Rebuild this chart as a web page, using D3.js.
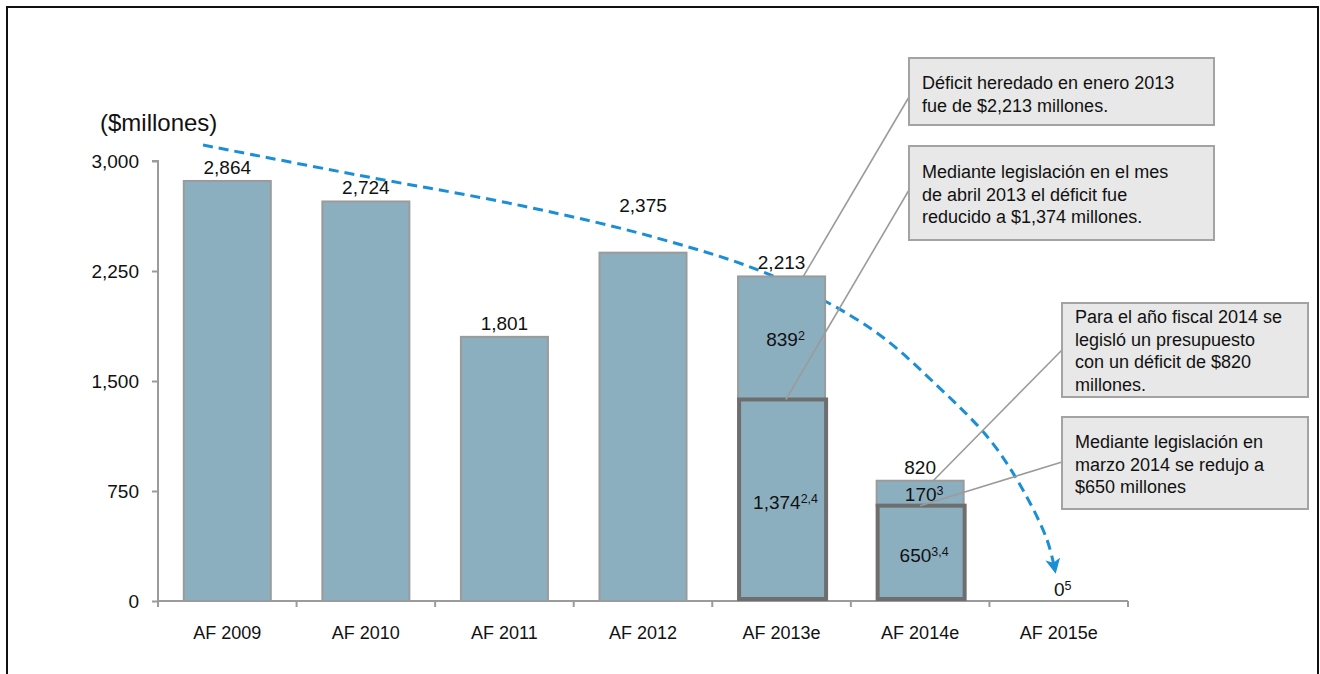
<!DOCTYPE html>
<html>
<head>
<meta charset="utf-8">
<script src="https://cdn.jsdelivr.net/npm/d3@7"></script>
<style>
  html, body { margin: 0; padding: 0; background: #fff; }
  svg { display: block; font-family: "Liberation Sans", Arial, Helvetica, sans-serif; }
</style>
</head>
<body>
<svg id="chart" width="1320" height="674"></svg>
<script>
// ---------- data ----------
const categories = ["AF 2009", "AF 2010", "AF 2011", "AF 2012", "AF 2013e", "AF 2014e", "AF 2015e"];
const totals     = [2864, 2724, 1801, 2375, 2213, 820, 0];
const reducedTo  = [null, null, null, null, 1374, 650, null];   // lower (legislated) segment
const upperNotes = ["", "", "", "", "2", "3", ""];
const lowerNotes = ["", "", "", "", "2,4", "3,4", ""];
const zeroNotes  = ["", "", "", "", "", "", "5"];
const yTicks     = [0, 750, 1500, 2250, 3000];
const yTitle     = "($millones)";

// trend arrow (position in category units, value in $millones)
const trendPos = [-0.175, 0.936, 2.134, 3.101, 3.937, 4.658, 5.143, 5.504, 5.742, 5.916, 5.973];
const trendVal = [3109, 2905, 2693, 2475, 2216, 1848, 1450, 1098, 757, 416, 211];

const notes = [
  ["Déficit heredado en enero 2013", "fue de $2,213 millones."],
  ["Mediante legislación en el mes", "de abril 2013 el déficit fue", "reducido a $1,374 millones."],
  ["Para el año fiscal 2014 se", "legisló un presupuesto", "con un déficit de $820", "millones."],
  ["Mediante legislación en", "marzo 2014 se redujo a", "$650 millones"]
];

// ---------- layout ----------
const svg = d3.select("#chart");
const plot = { left: 158, right: 1128, top: 161, bottom: 601 };
const barFill = "#8cafc0";
const gray = "#9b9b9b";
const blue = "#1b8fd5";

const x = d3.scaleBand().domain(categories).range([plot.left, plot.right])
  .paddingInner(0.372).paddingOuter(0.186);
const y = d3.scaleLinear().domain([0, 3000]).range([plot.bottom, plot.top]);
const xPos = d3.scaleLinear().domain([0, 6])
  .range([x(categories[0]) + x.bandwidth() / 2, x(categories[6]) + x.bandwidth() / 2]);

// frame
svg.append("rect").attr("x", 7).attr("y", 7).attr("width", 1311).attr("height", 680)
  .attr("fill", "none").attr("stroke", "#111").attr("stroke-width", 2);

// y title
svg.append("text").attr("x", 100).attr("y", 131).attr("font-size", 24).attr("fill", "#111").text(yTitle);

// ---------- trend curve (drawn under bars) ----------
const defs = svg.append("defs");
defs.append("marker").attr("id", "arrow").attr("viewBox", "0 0 12 12")
  .attr("refX", 9).attr("refY", 6).attr("markerWidth", 15).attr("markerHeight", 15)
  .attr("markerUnits", "userSpaceOnUse").attr("orient", "auto")
  .append("path").attr("d", "M0,0 L12,6 L0,12 L3,6 Z").attr("fill", blue);

const trend = trendPos.map((p, i) => [xPos(p), y(trendVal[i])]);
svg.append("path").datum(trend)
  .attr("d", d3.line().curve(d3.curveCatmullRom.alpha(0.5)))
  .attr("fill", "none").attr("stroke", blue).attr("stroke-width", 3)
  .attr("stroke-dasharray", "10,6").attr("marker-end", "url(#arrow)");

// ---------- axes ----------
const yAxis = d3.axisLeft(y).tickValues(yTicks).tickSize(6).tickPadding(13)
  .tickFormat(d3.format(","));
const gy = svg.append("g").attr("transform", `translate(${plot.left},0)`).call(yAxis);
gy.select(".domain").attr("stroke", gray).attr("stroke-width", 2)
  .attr("d", `M-6,${plot.top}H0V${plot.bottom + 6}`);
gy.selectAll(".tick line").attr("stroke", gray).attr("stroke-width", 2);
gy.selectAll(".tick text").attr("font-size", 19).attr("fill", "#111")
  .attr("font-family", "Liberation Sans, Arial, sans-serif");

// x axis: line with ticks at category boundaries
const bounds = categories.map(c => x(c) - x.step() * x.paddingInner() / 2).concat([plot.right]);
const gx = svg.append("g");
gx.append("line").attr("x1", plot.left).attr("x2", plot.right).attr("y1", plot.bottom).attr("y2", plot.bottom)
  .attr("stroke", gray).attr("stroke-width", 2);
gx.selectAll("line.tk").data(bounds).join("line").attr("class", "tk")
  .attr("x1", d => d).attr("x2", d => d).attr("y1", plot.bottom).attr("y2", plot.bottom + 6)
  .attr("stroke", gray).attr("stroke-width", 2);
gx.selectAll("text").data(categories).join("text")
  .attr("x", d => x(d) + x.bandwidth() / 2).attr("y", 639)
  .attr("text-anchor", "middle").attr("font-size", 18).attr("fill", "#111").text(d => d);

// ---------- bars ----------
const idx = d3.range(categories.length);
svg.selectAll("rect.bar").data(idx.filter(i => totals[i] > 0)).join("rect").attr("class", "bar")
  .attr("x", i => x(categories[i])).attr("width", x.bandwidth())
  .attr("y", i => y(totals[i])).attr("height", i => y(reducedTo[i] || 0) - y(totals[i]))
  .attr("fill", barFill).attr("stroke", gray).attr("stroke-width", 2);
svg.selectAll("rect.low").data(idx.filter(i => reducedTo[i] != null)).join("rect").attr("class", "low")
  .attr("x", i => x(categories[i]) + 1).attr("width", x.bandwidth())
  .attr("y", i => y(reducedTo[i])).attr("height", i => y(0) - y(reducedTo[i]) - 2)
  .attr("fill", barFill).attr("stroke", "#6e6e6e").attr("stroke-width", 4);

// ---------- labels ----------
const fmt = d3.format(",");
function labelWithNote(g, xx, yy, main, note) {
  const t = g.append("text").attr("x", xx).attr("y", yy).attr("text-anchor", "middle")
    .attr("font-size", 19).attr("fill", "#111");
  t.append("tspan").text(main);
  if (note) t.append("tspan").attr("font-size", 12.5).attr("dy", -6).text(note);
  return t;
}
const lg = svg.append("g");
idx.forEach(i => {
  const cx = x(categories[i]) + x.bandwidth() / 2;
  if (totals[i] > 0) {
    const lift = categories[i] === "AF 2012" ? 41 : 7;
    labelWithNote(lg, cx, y(totals[i]) - lift, fmt(totals[i]), "");
  } else {
    labelWithNote(lg, cx + 4, y(0) - 5, fmt(totals[i]), zeroNotes[i]);
  }
  if (reducedTo[i] != null) {
    const diff = totals[i] - reducedTo[i];
    const midU = (y(totals[i]) + y(reducedTo[i])) / 2;
    const midL = (y(reducedTo[i]) + y(0)) / 2;
    labelWithNote(lg, cx + 4, midU + 8, fmt(diff), upperNotes[i]);
    labelWithNote(lg, cx + 4, midL + 9, fmt(reducedTo[i]), lowerNotes[i]);
  }
});

// ---------- callouts ----------
const boxes = [
  { x: 909, y: 58, w: 305, h: 67, tx: 922, ty: 89 },
  { x: 909, y: 146, w: 305, h: 94, tx: 922, ty: 178 },
  { x: 1062, y: 303, w: 246, h: 94, tx: 1075, ty: 323 },
  { x: 1062, y: 417, w: 246, h: 92, tx: 1075, ty: 448 }
];
const bw = x.bandwidth();
const anchors = [
  [x("AF 2013e") + bw * 0.75, y(totals[4]), 97],
  [x("AF 2013e") + bw * 0.55, y(reducedTo[4]), 190],
  [x("AF 2014e") + bw * 0.65, y(totals[5]), 350],
  [x("AF 2014e") + bw * 0.50, y(reducedTo[5]), 462]
];
const cg = svg.append("g");
anchors.forEach((a, k) => {
  cg.append("line").attr("x1", a[0]).attr("y1", a[1]).attr("x2", boxes[k].x).attr("y2", a[2])
    .attr("stroke", gray).attr("stroke-width", 1.6);
});
boxes.forEach((b, k) => {
  cg.append("rect").attr("x", b.x).attr("y", b.y).attr("width", b.w).attr("height", b.h)
    .attr("fill", "#e8e8e8").attr("stroke", "#a3a3a3").attr("stroke-width", 2);
  const t = cg.append("text").attr("font-size", 18).attr("fill", "#111");
  notes[k].forEach((line, j) => {
    t.append("tspan").attr("x", b.tx).attr("y", b.ty + j * 22.5).text(line);
  });
});
</script>
</body>
</html>
